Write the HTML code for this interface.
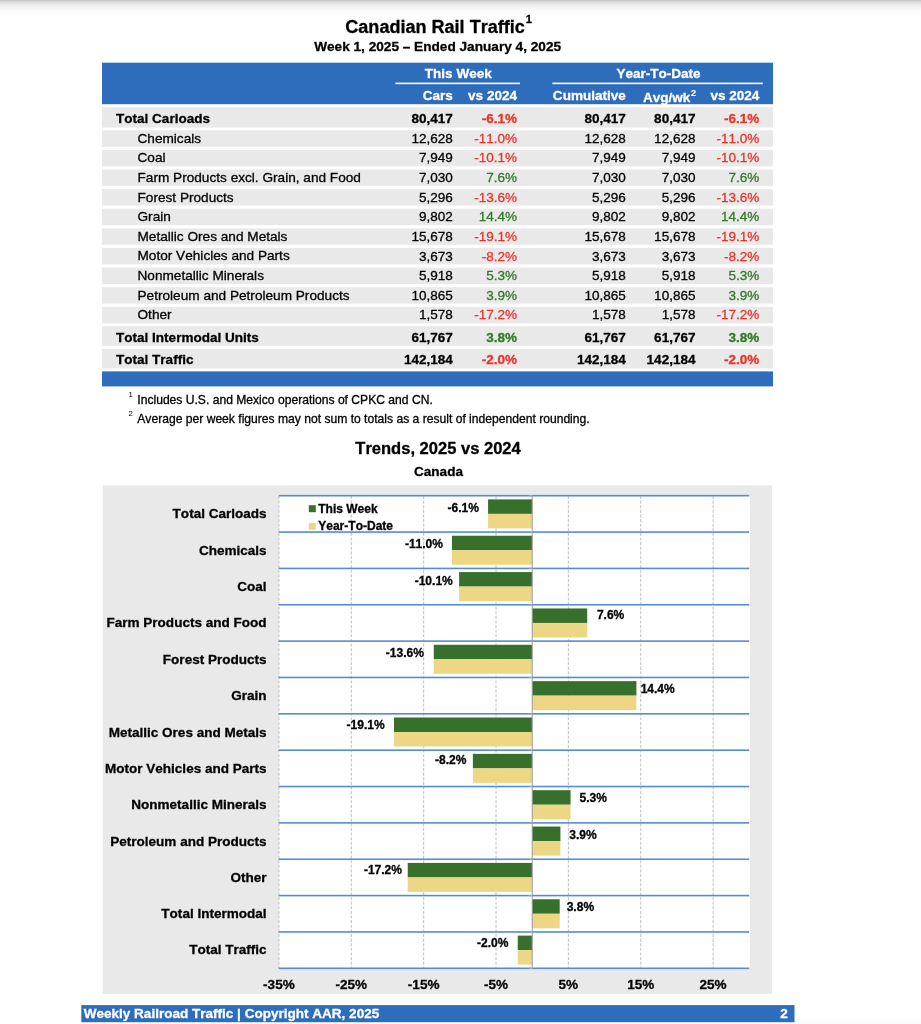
<!DOCTYPE html>
<html><head><meta charset="utf-8"><title>Canadian Rail Traffic</title>
<style>
html,body{margin:0;padding:0;background:#fff;}
body{width:921px;height:1024px;position:relative;overflow:hidden;font-family:"Liberation Sans",sans-serif;}
.t{position:absolute;white-space:nowrap;font-kerning:none;font-feature-settings:"kern" 0,"liga" 0;-webkit-text-stroke:0.3px;}
.r{position:absolute;}
#txt{position:absolute;left:0;top:0;width:921px;height:1024px;will-change:transform;filter:blur(0.35px);}
</style></head><body>
<svg class="r" style="left:0;top:0;filter:blur(0.3px);" width="921" height="1024" viewBox="0 0 921 1024">
<rect x="102.00" y="62.70" width="671.00" height="41.50" fill="#2e6cbc"/>
<rect x="395.50" y="82.60" width="124.50" height="1.60" fill="#fff"/>
<rect x="552.30" y="82.60" width="210.50" height="1.60" fill="#fff"/>
<rect x="102.00" y="107.20" width="671.00" height="20.40" fill="#e9e9e9"/>
<rect x="102.00" y="130.30" width="671.00" height="16.40" fill="#e9e9e9"/>
<rect x="102.00" y="149.92" width="671.00" height="16.40" fill="#e9e9e9"/>
<rect x="102.00" y="169.54" width="671.00" height="16.40" fill="#e9e9e9"/>
<rect x="102.00" y="189.16" width="671.00" height="16.40" fill="#e9e9e9"/>
<rect x="102.00" y="208.78" width="671.00" height="16.40" fill="#e9e9e9"/>
<rect x="102.00" y="228.40" width="671.00" height="16.40" fill="#e9e9e9"/>
<rect x="102.00" y="248.02" width="671.00" height="16.40" fill="#e9e9e9"/>
<rect x="102.00" y="267.64" width="671.00" height="16.40" fill="#e9e9e9"/>
<rect x="102.00" y="287.26" width="671.00" height="16.40" fill="#e9e9e9"/>
<rect x="102.00" y="306.88" width="671.00" height="16.40" fill="#e9e9e9"/>
<rect x="102.00" y="326.20" width="671.00" height="19.60" fill="#e9e9e9"/>
<rect x="102.00" y="349.00" width="671.00" height="19.60" fill="#e9e9e9"/>
<rect x="102.00" y="371.40" width="671.00" height="15.00" fill="#2e6cbc"/>
<rect x="102.80" y="485.30" width="669.20" height="508.60" fill="#e9e9e9"/>
<rect x="278.60" y="495.70" width="471.20" height="472.60" fill="#fff"/>
<line x1="278.92" y1="495.70" x2="278.92" y2="968.30" stroke="#c2c2c2" stroke-width="1.05" stroke-dasharray="3.07 1.54" stroke-dashoffset="-0.3"/>
<line x1="351.28" y1="495.70" x2="351.28" y2="968.30" stroke="#c2c2c2" stroke-width="1.05" stroke-dasharray="3.07 1.54" stroke-dashoffset="-0.3"/>
<line x1="423.65" y1="495.70" x2="423.65" y2="968.30" stroke="#c2c2c2" stroke-width="1.05" stroke-dasharray="3.07 1.54" stroke-dashoffset="-0.3"/>
<line x1="496.02" y1="495.70" x2="496.02" y2="968.30" stroke="#c2c2c2" stroke-width="1.05" stroke-dasharray="3.07 1.54" stroke-dashoffset="-0.3"/>
<line x1="568.38" y1="495.70" x2="568.38" y2="968.30" stroke="#c2c2c2" stroke-width="1.05" stroke-dasharray="3.07 1.54" stroke-dashoffset="-0.3"/>
<line x1="640.75" y1="495.70" x2="640.75" y2="968.30" stroke="#c2c2c2" stroke-width="1.05" stroke-dasharray="3.07 1.54" stroke-dashoffset="-0.3"/>
<line x1="713.12" y1="495.70" x2="713.12" y2="968.30" stroke="#c2c2c2" stroke-width="1.05" stroke-dasharray="3.07 1.54" stroke-dashoffset="-0.3"/>
<rect x="278.60" y="494.90" width="470.60" height="1.60" fill="#548dd5"/>
<rect x="278.60" y="531.25" width="470.60" height="1.60" fill="#548dd5"/>
<rect x="278.60" y="567.61" width="470.60" height="1.60" fill="#548dd5"/>
<rect x="278.60" y="603.96" width="470.60" height="1.60" fill="#548dd5"/>
<rect x="278.60" y="640.32" width="470.60" height="1.60" fill="#548dd5"/>
<rect x="278.60" y="676.67" width="470.60" height="1.60" fill="#548dd5"/>
<rect x="278.60" y="713.02" width="470.60" height="1.60" fill="#548dd5"/>
<rect x="278.60" y="749.38" width="470.60" height="1.60" fill="#548dd5"/>
<rect x="278.60" y="785.73" width="470.60" height="1.60" fill="#548dd5"/>
<rect x="278.60" y="822.08" width="470.60" height="1.60" fill="#548dd5"/>
<rect x="278.60" y="858.44" width="470.60" height="1.60" fill="#548dd5"/>
<rect x="278.60" y="894.79" width="470.60" height="1.60" fill="#548dd5"/>
<rect x="278.60" y="931.15" width="470.60" height="1.60" fill="#548dd5"/>
<rect x="278.60" y="967.50" width="470.60" height="1.60" fill="#548dd5"/>
<rect x="488.06" y="499.38" width="44.14" height="14.50" fill="#36702b"/>
<rect x="488.06" y="513.88" width="44.14" height="14.50" fill="#edd785"/>
<rect x="451.95" y="535.73" width="80.25" height="14.50" fill="#36702b"/>
<rect x="451.95" y="550.23" width="80.25" height="14.50" fill="#edd785"/>
<rect x="459.11" y="572.08" width="73.09" height="14.50" fill="#36702b"/>
<rect x="459.11" y="586.58" width="73.09" height="14.50" fill="#edd785"/>
<rect x="532.20" y="608.44" width="55.00" height="14.50" fill="#36702b"/>
<rect x="532.20" y="622.94" width="55.00" height="14.50" fill="#edd785"/>
<rect x="433.78" y="644.79" width="98.42" height="14.50" fill="#36702b"/>
<rect x="433.78" y="659.29" width="98.42" height="14.50" fill="#edd785"/>
<rect x="532.20" y="681.15" width="104.21" height="14.50" fill="#36702b"/>
<rect x="532.20" y="695.65" width="104.21" height="14.50" fill="#edd785"/>
<rect x="393.98" y="717.50" width="138.22" height="14.50" fill="#36702b"/>
<rect x="393.98" y="732.00" width="138.22" height="14.50" fill="#edd785"/>
<rect x="472.86" y="753.85" width="59.34" height="14.50" fill="#36702b"/>
<rect x="472.86" y="768.35" width="59.34" height="14.50" fill="#edd785"/>
<rect x="532.20" y="790.21" width="38.35" height="14.50" fill="#36702b"/>
<rect x="532.20" y="804.71" width="38.35" height="14.50" fill="#edd785"/>
<rect x="532.20" y="826.56" width="28.22" height="14.50" fill="#36702b"/>
<rect x="532.20" y="841.06" width="28.22" height="14.50" fill="#edd785"/>
<rect x="407.73" y="862.92" width="124.47" height="14.50" fill="#36702b"/>
<rect x="407.73" y="877.42" width="124.47" height="14.50" fill="#edd785"/>
<rect x="532.20" y="899.27" width="27.50" height="14.50" fill="#36702b"/>
<rect x="532.20" y="913.77" width="27.50" height="14.50" fill="#edd785"/>
<rect x="517.73" y="935.62" width="14.47" height="14.50" fill="#36702b"/>
<rect x="517.73" y="950.12" width="14.47" height="14.50" fill="#edd785"/>
<rect x="531.70" y="495.70" width="1.00" height="473.40" fill="#9c9c9c"/>
<rect x="529.00" y="495.20" width="3.20" height="1.00" fill="#a8a8a8"/>
<rect x="529.00" y="531.55" width="3.20" height="1.00" fill="#a8a8a8"/>
<rect x="529.00" y="567.91" width="3.20" height="1.00" fill="#a8a8a8"/>
<rect x="529.00" y="604.26" width="3.20" height="1.00" fill="#a8a8a8"/>
<rect x="529.00" y="640.62" width="3.20" height="1.00" fill="#a8a8a8"/>
<rect x="529.00" y="676.97" width="3.20" height="1.00" fill="#a8a8a8"/>
<rect x="529.00" y="713.32" width="3.20" height="1.00" fill="#a8a8a8"/>
<rect x="529.00" y="749.68" width="3.20" height="1.00" fill="#a8a8a8"/>
<rect x="529.00" y="786.03" width="3.20" height="1.00" fill="#a8a8a8"/>
<rect x="529.00" y="822.38" width="3.20" height="1.00" fill="#a8a8a8"/>
<rect x="529.00" y="858.74" width="3.20" height="1.00" fill="#a8a8a8"/>
<rect x="529.00" y="895.09" width="3.20" height="1.00" fill="#a8a8a8"/>
<rect x="529.00" y="931.45" width="3.20" height="1.00" fill="#a8a8a8"/>
<rect x="529.00" y="967.80" width="3.20" height="1.00" fill="#a8a8a8"/>
<rect x="308.80" y="505.20" width="7.00" height="7.00" fill="#36702b"/>
<rect x="308.80" y="522.80" width="7.00" height="7.00" fill="#edd785"/>
<rect x="794.50" y="1019.00" width="126.50" height="5.00" fill="#fcfcfa"/>
<rect x="81.30" y="1005.10" width="713.20" height="17.10" fill="#2e6cbc"/>
</svg>
<div id="txt">
<div class="r" style="left:0;top:0;width:921px;height:16px;background:linear-gradient(to bottom,#bfbfbf 0px,#d3d3d3 1.2px,#e3e3e3 3px,#ececec 5px,#f3f3f3 7.5px,#f9f9f9 9px,#fcfcfc 12px,#fdfdfd 15.8px,#ffffff 16px);"></div>
<div class="t" style="left:345.30px;top:17.71px;font-size:18.06px;line-height:18.06px;font-weight:bold;color:#000;">Canadian Rail Traffic<span style="font-size:0.62em;position:relative;top:-0.87em;left:1px;">1</span></div>
<div class="t" style="left:237.60px;width:400px;text-align:center;top:39.97px;font-size:13.63px;line-height:13.63px;font-weight:bold;color:#000;">Week 1, 2025 &ndash; Ended January 4, 2025</div>
<div class="t" style="left:258.30px;width:400px;text-align:center;top:67.03px;font-size:13.54px;line-height:13.54px;font-weight:bold;color:#fff;">This Week</div>
<div class="t" style="left:458.50px;width:400px;text-align:center;top:67.03px;font-size:13.54px;line-height:13.54px;font-weight:bold;color:#fff;">Year-To-Date</div>
<div class="t" style="left:52.80px;width:400px;text-align:right;top:89.03px;font-size:13.54px;line-height:13.54px;font-weight:bold;color:#fff;">Cars</div>
<div class="t" style="left:117.00px;width:400px;text-align:right;top:89.03px;font-size:13.54px;line-height:13.54px;font-weight:bold;color:#fff;">vs 2024</div>
<div class="t" style="left:225.80px;width:400px;text-align:right;top:89.03px;font-size:13.54px;line-height:13.54px;font-weight:bold;color:#fff;">Cumulative</div>
<div class="t" style="left:296.20px;width:400px;text-align:right;top:90.53px;font-size:13.54px;line-height:13.54px;font-weight:bold;color:#fff;">Avg/wk<span style="font-size:0.68em;position:relative;top:-0.60em;margin-left:0.7px;-webkit-text-stroke:0.15px;">2</span></div>
<div class="t" style="left:359.30px;width:400px;text-align:right;top:89.03px;font-size:13.54px;line-height:13.54px;font-weight:bold;color:#fff;">vs 2024</div>
<div class="t" style="left:116.00px;top:111.83px;font-size:13.54px;line-height:13.54px;font-weight:bold;color:#000;">Total Carloads</div>
<div class="t" style="left:52.80px;width:400px;text-align:right;top:111.83px;font-size:13.54px;line-height:13.54px;font-weight:bold;color:#000;">80,417</div>
<div class="t" style="left:117.00px;width:400px;text-align:right;top:111.83px;font-size:13.54px;line-height:13.54px;font-weight:bold;color:#e8352a;">-6.1%</div>
<div class="t" style="left:225.80px;width:400px;text-align:right;top:111.83px;font-size:13.54px;line-height:13.54px;font-weight:bold;color:#000;">80,417</div>
<div class="t" style="left:295.50px;width:400px;text-align:right;top:111.83px;font-size:13.54px;line-height:13.54px;font-weight:bold;color:#000;">80,417</div>
<div class="t" style="left:359.30px;width:400px;text-align:right;top:111.83px;font-size:13.54px;line-height:13.54px;font-weight:bold;color:#e8352a;">-6.1%</div>
<div class="t" style="left:137.50px;top:131.75px;font-size:13.64px;line-height:13.64px;color:#000;">Chemicals</div>
<div class="t" style="left:52.80px;width:400px;text-align:right;top:131.83px;font-size:13.54px;line-height:13.54px;color:#000;">12,628</div>
<div class="t" style="left:117.00px;width:400px;text-align:right;top:131.83px;font-size:13.54px;line-height:13.54px;color:#e8352a;">-11.0%</div>
<div class="t" style="left:225.80px;width:400px;text-align:right;top:131.83px;font-size:13.54px;line-height:13.54px;color:#000;">12,628</div>
<div class="t" style="left:295.50px;width:400px;text-align:right;top:131.83px;font-size:13.54px;line-height:13.54px;color:#000;">12,628</div>
<div class="t" style="left:359.30px;width:400px;text-align:right;top:131.83px;font-size:13.54px;line-height:13.54px;color:#e8352a;">-11.0%</div>
<div class="t" style="left:137.50px;top:151.37px;font-size:13.64px;line-height:13.64px;color:#000;">Coal</div>
<div class="t" style="left:52.80px;width:400px;text-align:right;top:151.45px;font-size:13.54px;line-height:13.54px;color:#000;">7,949</div>
<div class="t" style="left:117.00px;width:400px;text-align:right;top:151.45px;font-size:13.54px;line-height:13.54px;color:#e8352a;">-10.1%</div>
<div class="t" style="left:225.80px;width:400px;text-align:right;top:151.45px;font-size:13.54px;line-height:13.54px;color:#000;">7,949</div>
<div class="t" style="left:295.50px;width:400px;text-align:right;top:151.45px;font-size:13.54px;line-height:13.54px;color:#000;">7,949</div>
<div class="t" style="left:359.30px;width:400px;text-align:right;top:151.45px;font-size:13.54px;line-height:13.54px;color:#e8352a;">-10.1%</div>
<div class="t" style="left:137.50px;top:170.99px;font-size:13.64px;line-height:13.64px;color:#000;">Farm Products excl. Grain, and Food</div>
<div class="t" style="left:52.80px;width:400px;text-align:right;top:171.07px;font-size:13.54px;line-height:13.54px;color:#000;">7,030</div>
<div class="t" style="left:117.00px;width:400px;text-align:right;top:171.07px;font-size:13.54px;line-height:13.54px;color:#327827;">7.6%</div>
<div class="t" style="left:225.80px;width:400px;text-align:right;top:171.07px;font-size:13.54px;line-height:13.54px;color:#000;">7,030</div>
<div class="t" style="left:295.50px;width:400px;text-align:right;top:171.07px;font-size:13.54px;line-height:13.54px;color:#000;">7,030</div>
<div class="t" style="left:359.30px;width:400px;text-align:right;top:171.07px;font-size:13.54px;line-height:13.54px;color:#327827;">7.6%</div>
<div class="t" style="left:137.50px;top:190.61px;font-size:13.64px;line-height:13.64px;color:#000;">Forest Products</div>
<div class="t" style="left:52.80px;width:400px;text-align:right;top:190.69px;font-size:13.54px;line-height:13.54px;color:#000;">5,296</div>
<div class="t" style="left:117.00px;width:400px;text-align:right;top:190.69px;font-size:13.54px;line-height:13.54px;color:#e8352a;">-13.6%</div>
<div class="t" style="left:225.80px;width:400px;text-align:right;top:190.69px;font-size:13.54px;line-height:13.54px;color:#000;">5,296</div>
<div class="t" style="left:295.50px;width:400px;text-align:right;top:190.69px;font-size:13.54px;line-height:13.54px;color:#000;">5,296</div>
<div class="t" style="left:359.30px;width:400px;text-align:right;top:190.69px;font-size:13.54px;line-height:13.54px;color:#e8352a;">-13.6%</div>
<div class="t" style="left:137.50px;top:210.23px;font-size:13.64px;line-height:13.64px;color:#000;">Grain</div>
<div class="t" style="left:52.80px;width:400px;text-align:right;top:210.31px;font-size:13.54px;line-height:13.54px;color:#000;">9,802</div>
<div class="t" style="left:117.00px;width:400px;text-align:right;top:210.31px;font-size:13.54px;line-height:13.54px;color:#327827;">14.4%</div>
<div class="t" style="left:225.80px;width:400px;text-align:right;top:210.31px;font-size:13.54px;line-height:13.54px;color:#000;">9,802</div>
<div class="t" style="left:295.50px;width:400px;text-align:right;top:210.31px;font-size:13.54px;line-height:13.54px;color:#000;">9,802</div>
<div class="t" style="left:359.30px;width:400px;text-align:right;top:210.31px;font-size:13.54px;line-height:13.54px;color:#327827;">14.4%</div>
<div class="t" style="left:137.50px;top:229.85px;font-size:13.64px;line-height:13.64px;color:#000;">Metallic Ores and Metals</div>
<div class="t" style="left:52.80px;width:400px;text-align:right;top:229.93px;font-size:13.54px;line-height:13.54px;color:#000;">15,678</div>
<div class="t" style="left:117.00px;width:400px;text-align:right;top:229.93px;font-size:13.54px;line-height:13.54px;color:#e8352a;">-19.1%</div>
<div class="t" style="left:225.80px;width:400px;text-align:right;top:229.93px;font-size:13.54px;line-height:13.54px;color:#000;">15,678</div>
<div class="t" style="left:295.50px;width:400px;text-align:right;top:229.93px;font-size:13.54px;line-height:13.54px;color:#000;">15,678</div>
<div class="t" style="left:359.30px;width:400px;text-align:right;top:229.93px;font-size:13.54px;line-height:13.54px;color:#e8352a;">-19.1%</div>
<div class="t" style="left:137.50px;top:249.47px;font-size:13.64px;line-height:13.64px;color:#000;">Motor Vehicles and Parts</div>
<div class="t" style="left:52.80px;width:400px;text-align:right;top:249.55px;font-size:13.54px;line-height:13.54px;color:#000;">3,673</div>
<div class="t" style="left:117.00px;width:400px;text-align:right;top:249.55px;font-size:13.54px;line-height:13.54px;color:#e8352a;">-8.2%</div>
<div class="t" style="left:225.80px;width:400px;text-align:right;top:249.55px;font-size:13.54px;line-height:13.54px;color:#000;">3,673</div>
<div class="t" style="left:295.50px;width:400px;text-align:right;top:249.55px;font-size:13.54px;line-height:13.54px;color:#000;">3,673</div>
<div class="t" style="left:359.30px;width:400px;text-align:right;top:249.55px;font-size:13.54px;line-height:13.54px;color:#e8352a;">-8.2%</div>
<div class="t" style="left:137.50px;top:269.09px;font-size:13.64px;line-height:13.64px;color:#000;">Nonmetallic Minerals</div>
<div class="t" style="left:52.80px;width:400px;text-align:right;top:269.17px;font-size:13.54px;line-height:13.54px;color:#000;">5,918</div>
<div class="t" style="left:117.00px;width:400px;text-align:right;top:269.17px;font-size:13.54px;line-height:13.54px;color:#327827;">5.3%</div>
<div class="t" style="left:225.80px;width:400px;text-align:right;top:269.17px;font-size:13.54px;line-height:13.54px;color:#000;">5,918</div>
<div class="t" style="left:295.50px;width:400px;text-align:right;top:269.17px;font-size:13.54px;line-height:13.54px;color:#000;">5,918</div>
<div class="t" style="left:359.30px;width:400px;text-align:right;top:269.17px;font-size:13.54px;line-height:13.54px;color:#327827;">5.3%</div>
<div class="t" style="left:137.50px;top:288.71px;font-size:13.64px;line-height:13.64px;color:#000;">Petroleum and Petroleum Products</div>
<div class="t" style="left:52.80px;width:400px;text-align:right;top:288.79px;font-size:13.54px;line-height:13.54px;color:#000;">10,865</div>
<div class="t" style="left:117.00px;width:400px;text-align:right;top:288.79px;font-size:13.54px;line-height:13.54px;color:#327827;">3.9%</div>
<div class="t" style="left:225.80px;width:400px;text-align:right;top:288.79px;font-size:13.54px;line-height:13.54px;color:#000;">10,865</div>
<div class="t" style="left:295.50px;width:400px;text-align:right;top:288.79px;font-size:13.54px;line-height:13.54px;color:#000;">10,865</div>
<div class="t" style="left:359.30px;width:400px;text-align:right;top:288.79px;font-size:13.54px;line-height:13.54px;color:#327827;">3.9%</div>
<div class="t" style="left:137.50px;top:308.33px;font-size:13.64px;line-height:13.64px;color:#000;">Other</div>
<div class="t" style="left:52.80px;width:400px;text-align:right;top:308.41px;font-size:13.54px;line-height:13.54px;color:#000;">1,578</div>
<div class="t" style="left:117.00px;width:400px;text-align:right;top:308.41px;font-size:13.54px;line-height:13.54px;color:#e8352a;">-17.2%</div>
<div class="t" style="left:225.80px;width:400px;text-align:right;top:308.41px;font-size:13.54px;line-height:13.54px;color:#000;">1,578</div>
<div class="t" style="left:295.50px;width:400px;text-align:right;top:308.41px;font-size:13.54px;line-height:13.54px;color:#000;">1,578</div>
<div class="t" style="left:359.30px;width:400px;text-align:right;top:308.41px;font-size:13.54px;line-height:13.54px;color:#e8352a;">-17.2%</div>
<div class="t" style="left:116.00px;top:330.53px;font-size:13.54px;line-height:13.54px;font-weight:bold;color:#000;">Total Intermodal Units</div>
<div class="t" style="left:52.80px;width:400px;text-align:right;top:330.53px;font-size:13.54px;line-height:13.54px;font-weight:bold;color:#000;">61,767</div>
<div class="t" style="left:117.00px;width:400px;text-align:right;top:330.53px;font-size:13.54px;line-height:13.54px;font-weight:bold;color:#327827;">3.8%</div>
<div class="t" style="left:225.80px;width:400px;text-align:right;top:330.53px;font-size:13.54px;line-height:13.54px;font-weight:bold;color:#000;">61,767</div>
<div class="t" style="left:295.50px;width:400px;text-align:right;top:330.53px;font-size:13.54px;line-height:13.54px;font-weight:bold;color:#000;">61,767</div>
<div class="t" style="left:359.30px;width:400px;text-align:right;top:330.53px;font-size:13.54px;line-height:13.54px;font-weight:bold;color:#327827;">3.8%</div>
<div class="t" style="left:116.00px;top:353.13px;font-size:13.54px;line-height:13.54px;font-weight:bold;color:#000;">Total Traffic</div>
<div class="t" style="left:52.80px;width:400px;text-align:right;top:353.13px;font-size:13.54px;line-height:13.54px;font-weight:bold;color:#000;">142,184</div>
<div class="t" style="left:117.00px;width:400px;text-align:right;top:353.13px;font-size:13.54px;line-height:13.54px;font-weight:bold;color:#e8352a;">-2.0%</div>
<div class="t" style="left:225.80px;width:400px;text-align:right;top:353.13px;font-size:13.54px;line-height:13.54px;font-weight:bold;color:#000;">142,184</div>
<div class="t" style="left:295.50px;width:400px;text-align:right;top:353.13px;font-size:13.54px;line-height:13.54px;font-weight:bold;color:#000;">142,184</div>
<div class="t" style="left:359.30px;width:400px;text-align:right;top:353.13px;font-size:13.54px;line-height:13.54px;font-weight:bold;color:#e8352a;">-2.0%</div>
<div class="t" style="left:128.60px;top:391.00px;font-size:7.80px;line-height:7.80px;color:#000;-webkit-text-stroke:0;">1</div>
<div class="t" style="left:137.30px;top:394.34px;font-size:12.12px;line-height:12.12px;color:#000;">Includes U.S. and Mexico operations of CPKC and CN.</div>
<div class="t" style="left:128.40px;top:410.10px;font-size:7.80px;line-height:7.80px;color:#000;-webkit-text-stroke:0;">2</div>
<div class="t" style="left:137.30px;top:413.14px;font-size:12.12px;line-height:12.12px;color:#000;">Average per week figures may not sum to totals as a result of independent rounding.</div>
<div class="t" style="left:238.00px;width:400px;text-align:center;top:440.99px;font-size:16.55px;line-height:16.55px;font-weight:bold;color:#000;">Trends, 2025 vs 2024</div>
<div class="t" style="left:238.50px;width:400px;text-align:center;top:464.53px;font-size:13.54px;line-height:13.54px;font-weight:bold;color:#000;">Canada</div>
<div class="t" style="left:-133.40px;width:400px;text-align:right;top:507.11px;font-size:13.54px;line-height:13.54px;font-weight:bold;color:#000;">Total Carloads</div>
<div class="t" style="left:79.00px;width:400px;text-align:right;top:502.01px;font-size:12.04px;line-height:12.04px;font-weight:bold;color:#000;">-6.1%</div>
<div class="t" style="left:-133.40px;width:400px;text-align:right;top:543.97px;font-size:13.54px;line-height:13.54px;font-weight:bold;color:#000;">Chemicals</div>
<div class="t" style="left:43.00px;width:400px;text-align:right;top:538.01px;font-size:12.04px;line-height:12.04px;font-weight:bold;color:#000;">-11.0%</div>
<div class="t" style="left:-133.40px;width:400px;text-align:right;top:579.82px;font-size:13.54px;line-height:13.54px;font-weight:bold;color:#000;">Coal</div>
<div class="t" style="left:52.80px;width:400px;text-align:right;top:574.61px;font-size:12.04px;line-height:12.04px;font-weight:bold;color:#000;">-10.1%</div>
<div class="t" style="left:-133.40px;width:400px;text-align:right;top:616.17px;font-size:13.54px;line-height:13.54px;font-weight:bold;color:#000;">Farm Products and Food</div>
<div class="t" style="left:410.60px;width:400px;text-align:center;top:609.01px;font-size:12.04px;line-height:12.04px;font-weight:bold;color:#000;">7.6%</div>
<div class="t" style="left:-133.40px;width:400px;text-align:right;top:652.53px;font-size:13.54px;line-height:13.54px;font-weight:bold;color:#000;">Forest Products</div>
<div class="t" style="left:23.90px;width:400px;text-align:right;top:646.61px;font-size:12.04px;line-height:12.04px;font-weight:bold;color:#000;">-13.6%</div>
<div class="t" style="left:-133.40px;width:400px;text-align:right;top:688.88px;font-size:13.54px;line-height:13.54px;font-weight:bold;color:#000;">Grain</div>
<div class="t" style="left:457.70px;width:400px;text-align:center;top:683.01px;font-size:12.04px;line-height:12.04px;font-weight:bold;color:#000;">14.4%</div>
<div class="t" style="left:-133.40px;width:400px;text-align:right;top:725.83px;font-size:13.54px;line-height:13.54px;font-weight:bold;color:#000;">Metallic Ores and Metals</div>
<div class="t" style="left:-15.30px;width:400px;text-align:right;top:719.41px;font-size:12.04px;line-height:12.04px;font-weight:bold;color:#000;">-19.1%</div>
<div class="t" style="left:-133.40px;width:400px;text-align:right;top:761.59px;font-size:13.54px;line-height:13.54px;font-weight:bold;color:#000;">Motor Vehicles and Parts</div>
<div class="t" style="left:66.50px;width:400px;text-align:right;top:754.01px;font-size:12.04px;line-height:12.04px;font-weight:bold;color:#000;">-8.2%</div>
<div class="t" style="left:-133.40px;width:400px;text-align:right;top:797.94px;font-size:13.54px;line-height:13.54px;font-weight:bold;color:#000;">Nonmetallic Minerals</div>
<div class="t" style="left:393.30px;width:400px;text-align:center;top:791.71px;font-size:12.04px;line-height:12.04px;font-weight:bold;color:#000;">5.3%</div>
<div class="t" style="left:-133.40px;width:400px;text-align:right;top:835.10px;font-size:13.54px;line-height:13.54px;font-weight:bold;color:#000;">Petroleum and Products</div>
<div class="t" style="left:383.00px;width:400px;text-align:center;top:828.61px;font-size:12.04px;line-height:12.04px;font-weight:bold;color:#000;">3.9%</div>
<div class="t" style="left:-133.40px;width:400px;text-align:right;top:870.65px;font-size:13.54px;line-height:13.54px;font-weight:bold;color:#000;">Other</div>
<div class="t" style="left:2.00px;width:400px;text-align:right;top:863.81px;font-size:12.04px;line-height:12.04px;font-weight:bold;color:#000;">-17.2%</div>
<div class="t" style="left:-133.40px;width:400px;text-align:right;top:907.00px;font-size:13.54px;line-height:13.54px;font-weight:bold;color:#000;">Total Intermodal</div>
<div class="t" style="left:380.40px;width:400px;text-align:center;top:901.01px;font-size:12.04px;line-height:12.04px;font-weight:bold;color:#000;">3.8%</div>
<div class="t" style="left:-133.40px;width:400px;text-align:right;top:943.36px;font-size:13.54px;line-height:13.54px;font-weight:bold;color:#000;">Total Traffic</div>
<div class="t" style="left:108.40px;width:400px;text-align:right;top:937.41px;font-size:12.04px;line-height:12.04px;font-weight:bold;color:#000;">-2.0%</div>
<div class="t" style="left:318.20px;top:502.61px;font-size:12.04px;line-height:12.04px;font-weight:bold;color:#000;">This Week</div>
<div class="t" style="left:318.20px;top:519.81px;font-size:12.04px;line-height:12.04px;font-weight:bold;color:#000;">Year-To-Date</div>
<div class="t" style="left:78.92px;width:400px;text-align:center;top:977.83px;font-size:13.54px;line-height:13.54px;font-weight:bold;color:#000;">-35%</div>
<div class="t" style="left:151.28px;width:400px;text-align:center;top:977.83px;font-size:13.54px;line-height:13.54px;font-weight:bold;color:#000;">-25%</div>
<div class="t" style="left:223.65px;width:400px;text-align:center;top:977.83px;font-size:13.54px;line-height:13.54px;font-weight:bold;color:#000;">-15%</div>
<div class="t" style="left:296.02px;width:400px;text-align:center;top:977.83px;font-size:13.54px;line-height:13.54px;font-weight:bold;color:#000;">-5%</div>
<div class="t" style="left:368.38px;width:400px;text-align:center;top:977.83px;font-size:13.54px;line-height:13.54px;font-weight:bold;color:#000;">5%</div>
<div class="t" style="left:440.75px;width:400px;text-align:center;top:977.83px;font-size:13.54px;line-height:13.54px;font-weight:bold;color:#000;">15%</div>
<div class="t" style="left:513.12px;width:400px;text-align:center;top:977.83px;font-size:13.54px;line-height:13.54px;font-weight:bold;color:#000;">25%</div>
<div class="t" style="left:83.70px;top:1006.83px;font-size:13.54px;line-height:13.54px;font-weight:bold;color:#fff;">Weekly Railroad Traffic | Copyright AAR, 2025</div>
<div class="t" style="left:387.80px;width:400px;text-align:right;top:1006.83px;font-size:13.54px;line-height:13.54px;font-weight:bold;color:#fff;">2</div>
</div>
</body></html>
